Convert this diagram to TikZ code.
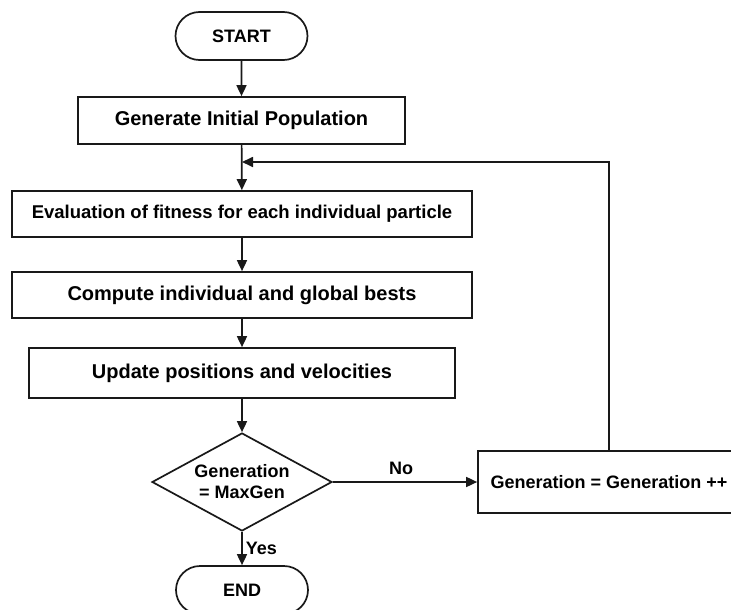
\documentclass[tikz,border=0pt]{standalone}
\usepackage{fontspec}
\setmainfont{Liberation Sans}
\usetikzlibrary{shapes.misc,shapes.geometric,arrows.meta}

\tikzset{
  x=1pt, y=-1pt,
  flowline/.style={line width=1.7pt, draw=black!90},
  arr/.style={flowline, -{Triangle[length=11pt,width=10pt]}},
  procbox/.style={draw=black!90, line width=1.7pt, rectangle, inner sep=0pt,
    font=\bfseries\fontsize{20}{24}\selectfont, align=center},
  terminal/.style={draw=black!90, line width=1.7pt, rounded rectangle, inner sep=0pt,
    minimum width=132pt, minimum height=48pt,
    font=\bfseries\fontsize{18}{22}\selectfont},
  decision/.style={draw=black!90, line width=1.7pt, diamond, aspect=1.84, inner sep=0pt,
    minimum width=180pt, minimum height=98pt, align=center,
    font=\bfseries\fontsize{18}{21}\selectfont},
  lbl/.style={font=\bfseries\fontsize{18}{22}\selectfont, inner sep=3pt}
}

\begin{document}
\begin{tikzpicture}
  \useasboundingbox (0,0) rectangle (731,610);
  \clip (0,0) rectangle (731,610);

  % main chain
  \node[terminal] (start) at (241.5,36) {START};
  \node[procbox, minimum width=327pt, minimum height=47pt] (init) at (241.5,120.5) {Generate Initial Population};
  \node[procbox, minimum width=460pt, minimum height=46pt,
        font=\bfseries\fontsize{18.5}{22}\selectfont] (eval) at (242,214) {Evaluation of fitness for each individual particle};
  \node[procbox, minimum width=460pt, minimum height=46pt] (comp) at (242,295) {Compute individual and global bests};
  \node[procbox, minimum width=426pt, minimum height=50pt] (upd) at (242,373) {Update positions and velocities};
  \node[decision] (dec) at (242,482) {Generation\\= MaxGen};
  \node[procbox, minimum width=262pt, minimum height=62pt,
        font=\bfseries\fontsize{18}{22}\selectfont] (inc) at (609,482) {Generation = Generation ++};
  \node[terminal] (end) at (242,590) {END};

  % loop-back junction on the main line
  \coordinate (merge) at (242,162);

  % connectors
  \draw[arr] (start) -- (init);
  \draw[arr] (init) -- (eval);
  \draw[arr] (eval) -- (comp);
  \draw[arr] (comp) -- (upd);
  \draw[arr] (upd) -- (dec);
  \draw[arr] (dec) -- node[lbl, right] {Yes} (end);
  \draw[arr] (dec) -- node[lbl, above, yshift=3pt, xshift=-4pt] {No} (inc);
  \draw[arr] (inc.north) |- (merge);
\end{tikzpicture}
\end{document}
